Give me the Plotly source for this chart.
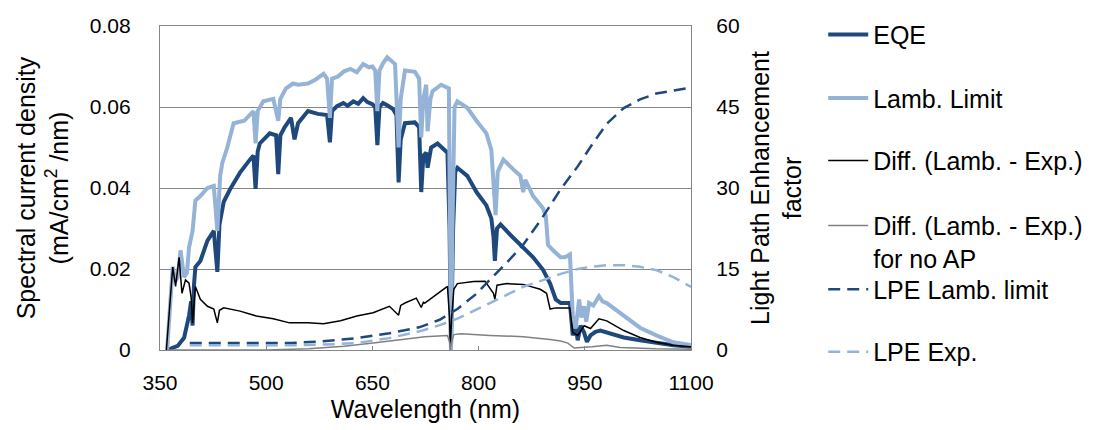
import plotly.graph_objects as go
from plotly.subplots import make_subplots

# ---- Spectral current density (mA/cm^2/nm) ----
eqe_wl = [360, 366, 375, 384, 391, 394, 396, 398, 400, 407, 417, 426, 431, 434, 440, 449,
          463, 477, 482, 485, 488, 491, 505, 514, 517, 520, 526, 535, 540, 545, 559, 573,
          586, 590, 593, 600, 609, 615, 623, 630, 637, 643, 650, 654, 657, 660, 665, 672, 679,
          684, 687, 690, 696, 710, 716, 719, 722, 726, 728, 733, 742, 756, 759, 761, 764, 767,
          770, 784, 797, 811, 818, 821, 823, 826, 831, 845, 859, 866, 877, 891, 901, 909, 916,
          922, 929, 933, 937, 940, 944, 949, 953, 958, 965, 972, 981, 1005, 1028, 1051, 1075,
          1100]
eqe_val = [0.0, 0.0005, 0.001, 0.003, 0.0085, 0.012, 0.006, 0.016, 0.0205, 0.022, 0.027, 0.0294,
           0.0193, 0.031, 0.0366, 0.0397, 0.0438, 0.047, 0.048, 0.0398, 0.049, 0.051, 0.0535,
           0.053, 0.0434, 0.053, 0.055, 0.0573, 0.052, 0.056, 0.059, 0.0583, 0.058, 0.0513,
           0.059, 0.0602, 0.061, 0.0603, 0.0614, 0.0608, 0.0622, 0.0612, 0.0607, 0.060, 0.0506,
           0.060, 0.061, 0.0603, 0.0595, 0.058, 0.0414, 0.052, 0.056, 0.0562, 0.055, 0.039,
           0.048, 0.0487, 0.045, 0.050, 0.051, 0.0487, 0.030, 0.0005, 0.030, 0.044, 0.045,
           0.043, 0.039, 0.0357, 0.0325, 0.028, 0.022, 0.030, 0.031, 0.0284, 0.026, 0.0245,
           0.0229, 0.0198, 0.0164, 0.0125, 0.0116, 0.0116, 0.0116, 0.0036, 0.006, 0.0024,
           0.006, 0.0043, 0.002, 0.0036, 0.0045, 0.0048, 0.0043, 0.0031, 0.0024, 0.0017,
           0.0012, 0.0008]

lamb_wl = [360, 365, 368, 372, 375, 379, 384, 388, 391, 396, 400, 407, 417, 426, 431, 435,
           438, 445, 454, 469, 482, 485, 488, 496, 510, 517, 520, 528, 538, 545, 559, 570, 581,
           586, 590, 593, 601, 610, 619, 628, 637, 645, 650, 654, 657, 660, 665, 671, 676, 682,
           687, 690, 696, 710, 716, 719, 722, 726, 728, 732, 735, 747, 758, 760, 761, 763, 766,
           770, 784, 797, 811, 818, 821, 824, 827, 835, 849, 859, 863, 866, 877, 891, 895, 898,
           905, 916, 922, 929, 933, 937, 942, 945, 949, 952, 956, 962, 970, 975, 981, 1005,
           1028, 1051, 1075, 1100]
lamb_val = [0.0, 0.012, 0.0205, 0.017, 0.018, 0.0246, 0.018, 0.019, 0.0253, 0.0294, 0.0369,
            0.038, 0.040, 0.0405, 0.0294, 0.043, 0.0462, 0.050, 0.056, 0.0566, 0.059, 0.051,
            0.059, 0.0614, 0.062, 0.0566, 0.062, 0.0646, 0.0658, 0.0655, 0.0658, 0.0668,
            0.0682, 0.067, 0.0573, 0.067, 0.0675, 0.0688, 0.0694, 0.0686, 0.0706, 0.0698,
            0.070, 0.069, 0.059, 0.069, 0.0708, 0.0723, 0.0715, 0.0706, 0.050, 0.062, 0.069,
            0.0687, 0.067, 0.0525, 0.062, 0.0655, 0.054, 0.062, 0.0639, 0.0655, 0.0646, 0.030,
            0.0, 0.030, 0.060, 0.0614, 0.0598, 0.0566, 0.0535, 0.0494, 0.042, 0.0333, 0.044,
            0.047, 0.0446, 0.043, 0.039, 0.042, 0.038, 0.035, 0.033, 0.026, 0.0246, 0.0229,
            0.0229, 0.0236, 0.0084, 0.0053, 0.0125, 0.008, 0.0108, 0.007, 0.0116, 0.011,
            0.0133, 0.012, 0.0116, 0.0084, 0.0055, 0.0036, 0.0019, 0.0012]

diff_wl = [359, 364, 368, 372, 377, 381, 386, 391, 394, 396, 398, 400, 407, 417, 426, 431,
           434, 440, 463, 486, 510, 533, 559, 581, 605, 628, 651, 674, 687, 690, 696, 712,
           719, 722, 724, 742, 756, 759, 760, 762, 765, 770, 793, 809, 821, 823, 826, 840,
           863, 887, 896, 901, 909, 929, 933, 940, 949, 958, 970, 981, 1005, 1028, 1051, 1075,
           1100]
diff_val = [0.0, 0.012, 0.0205, 0.0157, 0.0229, 0.014, 0.0173, 0.0165, 0.013, 0.0067, 0.012,
            0.0157, 0.0125, 0.0108, 0.0101, 0.0067, 0.0098, 0.0104, 0.0096, 0.0084, 0.0077,
            0.0067, 0.0067, 0.0065, 0.0072, 0.0084, 0.0092, 0.0108, 0.0086, 0.011, 0.0116,
            0.0128, 0.0105, 0.0118, 0.0116, 0.014, 0.0157, 0.008, 0.001, 0.008, 0.015, 0.0164,
            0.0169, 0.017, 0.014, 0.0125, 0.016, 0.0164, 0.0162, 0.015, 0.014, 0.0101, 0.0104,
            0.0104, 0.0043, 0.0036, 0.006, 0.0053, 0.0077, 0.0072, 0.0048, 0.0031, 0.0019,
            0.0012, 0.0008]

noap_wl = [360, 500, 560, 581, 610, 651, 680, 712, 724, 756, 759, 760, 762, 765, 775, 816,
           863, 901, 916, 926, 935, 960, 981, 1000, 1050, 1100]
noap_val = [0.0, 0.0, 0.0003, 0.0005, 0.0009, 0.0017, 0.0024, 0.003, 0.0033, 0.0036, 0.002,
            0.0, 0.002, 0.0038, 0.004, 0.0036, 0.0033, 0.0026, 0.0022, 0.0017, 0.0005, 0.0008,
            0.0012, 0.0006, 0.0003, 0.0002]

# ---- Light path enhancement factor ----
lpe_lamb_wl = [392, 450, 535, 580, 628, 674, 716, 745, 770, 795, 816, 840, 863, 890, 916,
               940, 958, 981, 1005, 1028, 1051, 1075, 1100]
lpe_lamb_val = [1.3, 1.3, 1.3, 1.6, 2.2, 3.1, 4.2, 5.6, 7.6, 10.2, 13.0, 16.2, 19.5, 24.5,
                29.8, 34.0, 37.6, 41.9, 44.8, 46.4, 47.5, 48.1, 48.6]

lpe_exp_wl = [392, 450, 550, 600, 628, 674, 721, 745, 770, 816, 863, 890, 916, 940, 958,
              981, 1005, 1028, 1051, 1075, 1100]
lpe_exp_val = [0.9, 0.9, 0.9, 1.1, 1.3, 2.2, 3.6, 4.6, 5.8, 8.7, 11.7, 12.9, 14.1, 15.0,
               15.4, 15.7, 15.7, 15.4, 14.8, 13.5, 11.7]

x_ticks = [350, 500, 650, 800, 950, 1100]
y_ticks = [0, 0.02, 0.04, 0.06, 0.08]
y2_ticks = [0, 15, 30, 45, 60]

DARK = "#1F497D"
LIGHT = "#95B3D7"
FONT = "Liberation Sans, Arial, sans-serif"
TICK_FS = 21
TITLE_FS = 25

fig = make_subplots(specs=[[{"secondary_y": True}]])

fig.add_trace(go.Scatter(x=eqe_wl, y=eqe_val, mode="lines", name="EQE",
                         line=dict(color=DARK, width=4), legend="legend"),
              secondary_y=False)
fig.add_trace(go.Scatter(x=lamb_wl, y=lamb_val, mode="lines", name="Lamb. Limit",
                         line=dict(color=LIGHT, width=4), legend="legend2"),
              secondary_y=False)
fig.add_trace(go.Scatter(x=diff_wl, y=diff_val, mode="lines", name="Diff. (Lamb. - Exp.)",
                         line=dict(color="#000000", width=1.5), legend="legend3"),
              secondary_y=False)
fig.add_trace(go.Scatter(x=noap_wl, y=noap_val, mode="lines",
                         name="Diff. (Lamb. - Exp.)<br>for no AP",
                         line=dict(color="#808080", width=1.5), legend="legend4"),
              secondary_y=False)
fig.add_trace(go.Scatter(x=lpe_lamb_wl, y=lpe_lamb_val, mode="lines", name="LPE Lamb. limit",
                         line=dict(color=DARK, width=2.5, dash="12px,7px"), legend="legend5"),
              secondary_y=True)
fig.add_trace(go.Scatter(x=lpe_exp_wl, y=lpe_exp_val, mode="lines", name="LPE Exp.",
                         line=dict(color=LIGHT, width=2.5, dash="12px,7px"), legend="legend6"),
              secondary_y=True)

# plot area spans y=18..350 px; each legend entry is placed by its pixel row
def row(py):
    return (350 - py) / 332.0

legend_rows = {"legend": 27, "legend2": 92, "legend3": 156, "legend4": 217,
               "legend5": 288, "legend6": 352}
legend_layout = {}
for key, py in legend_rows.items():
    legend_layout[key] = dict(x=1.249, y=row(py), xanchor="left",
                              yanchor="middle" if key != "legend4" else "top",
                              font=dict(family=FONT, size=TITLE_FS, color="#000000"),
                              bgcolor="rgba(0,0,0,0)", valign="top", itemwidth=40,
                              tracegroupgap=0)
legend_layout["legend4"]["y"] = row(217) + 18 / 332.0

axis_common = dict(showline=True, linecolor="#868686", linewidth=1.3,
                   tickfont=dict(family=FONT, size=TICK_FS, color="#000000"),
                   zeroline=False)

fig.update_layout(
    width=1100, height=430,
    margin=dict(l=160, r=402, t=18, b=80),
    paper_bgcolor="white", plot_bgcolor="white",
    font=dict(family=FONT, size=TICK_FS, color="#000000"),
    showlegend=True,
    xaxis=dict(domain=[0, 1]),
    **legend_layout,
)

fig.update_xaxes(range=[350, 1100], tickvals=x_ticks, ticks="inside", ticklen=4,
                 tickcolor="#868686", showgrid=False, mirror=True,
                 ticklabelstandoff=14,
                 title=dict(text="Wavelength (nm)", font=dict(family=FONT, size=TITLE_FS),
                            standoff=7),
                 **axis_common)
fig.update_yaxes(range=[0, 0.08], tickvals=y_ticks, ticktext=["0", "0.02", "0.04", "0.06", "0.08"],
                 showgrid=True, gridcolor="#868686", gridwidth=1, ticks="",
                 ticklabelstandoff=24,
                 title=dict(text="Spectral current density<br>(mA/cm<sup>2</sup> /nm)",
                            font=dict(family=FONT, size=TITLE_FS), standoff=14),
                 secondary_y=False, **axis_common)
fig.update_yaxes(range=[0, 60], tickvals=y2_ticks, showgrid=False, ticks="",
                 ticklabelstandoff=20,
                 title=dict(text="Light Path Enhancement<br>factor",
                            font=dict(family=FONT, size=TITLE_FS), standoff=12),
                 secondary_y=True, **axis_common)

fig.write_html("out.html")
